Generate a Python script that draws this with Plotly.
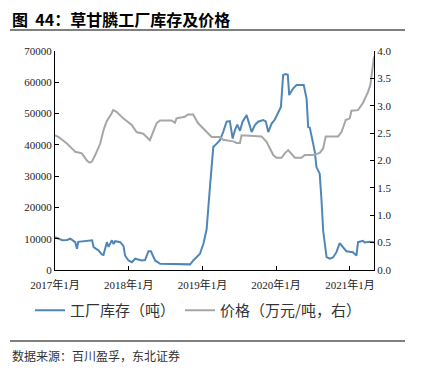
import plotly.graph_objects as go

inv_dates = ["2017-01-01","2017-01-17","2017-02-06","2017-03-01","2017-03-18","2017-04-11","2017-04-20","2017-04-26",
             "2017-05-31","2017-06-24","2017-07-04","2017-07-11","2017-08-04","2017-08-21","2017-08-29","2017-09-15",
             "2017-09-23","2017-10-10","2017-10-18","2017-10-26","2017-11-20","2017-12-06","2017-12-14","2017-12-31",
             "2018-01-17","2018-02-02","2018-02-18","2018-03-07","2018-03-23","2018-04-09","2018-04-21","2018-05-12",
             "2018-06-06","2018-07-26","2018-09-29","2018-11-01","2018-11-17","2018-12-20","2019-01-06","2019-01-22",
             "2019-02-08","2019-02-24","2019-03-13","2019-03-29","2019-04-14","2019-05-01","2019-05-17","2019-05-31",
             "2019-06-11","2019-06-23","2019-07-06","2019-07-19","2019-08-08","2019-08-20","2019-09-02","2019-09-18",
             "2019-10-04","2019-10-29","2019-11-11","2019-11-23","2019-12-10","2019-12-26","2020-01-11","2020-01-25",
             "2020-02-05","2020-02-18","2020-02-28","2020-03-06","2020-03-25","2020-04-11","2020-05-17","2020-05-31",
             "2020-06-08","2020-06-16","2020-06-29","2020-07-11","2020-07-19","2020-08-04","2020-08-13","2020-08-21",
             "2020-09-07","2020-09-23","2020-10-09","2020-10-26","2020-11-11","2020-11-28","2020-12-14","2021-01-16",
             "2021-02-02","2021-02-10","2021-03-06","2021-03-15","2021-04-09","2021-04-30"]
inv_values = [10500,10000,9500,9600,10000,8900,6800,9000,
              9200,9500,9500,7300,6300,5000,4800,8900,
              7400,9500,8300,9200,8900,7700,4650,3050,
              2500,3600,3300,3050,3200,6000,6000,3050,
              2000,1900,1700,1800,3050,5200,8400,13000,
              27000,39300,40400,41500,44100,47400,47600,42000,
              44700,46500,44500,47400,49500,47000,44100,46300,
              47400,47900,47500,44100,46800,48100,50000,52100,
              62300,62600,62400,55900,58000,59100,59100,54800,
              45700,45500,41500,37700,32900,30800,22300,12700,
              4100,3600,4000,5700,8600,7300,6000,5700,
              4600,8900,9300,8800,9000,8900]

price_dates = ["2017-01-01","2017-01-18","2017-02-05","2017-03-01","2017-04-03","2017-04-11","2017-05-14","2017-06-08",
               "2017-06-21","2017-07-03","2017-07-19","2017-08-13","2017-08-29","2017-09-13","2017-10-08","2017-10-16",
               "2017-11-02","2017-12-05","2018-01-16","2018-02-09","2018-03-14","2018-04-16","2018-05-19","2018-06-05",
               "2018-08-01","2018-08-18","2018-08-26","2018-10-06","2018-10-22","2018-11-16","2018-12-11","2019-01-22",
               "2019-02-16","2019-03-29","2019-04-14","2019-06-03","2019-06-20","2019-07-06","2019-07-14","2019-10-21",
               "2019-11-15","2019-12-18","2020-01-03","2020-01-28","2020-02-13","2020-03-01","2020-03-18","2020-04-03",
               "2020-05-06","2020-05-22","2020-07-02","2020-08-04","2020-08-21","2020-09-03","2020-11-03","2020-11-20",
               "2020-12-11","2020-12-31","2021-01-08","2021-02-10","2021-03-06","2021-03-31","2021-04-12","2021-04-21",
               "2021-04-30"]
price_values = [2.46,2.43,2.38,2.31,2.19,2.16,2.13,2.00,
                1.96,1.98,2.10,2.31,2.55,2.71,2.86,2.92,
                2.89,2.77,2.65,2.52,2.49,2.37,2.68,2.73,
                2.73,2.69,2.77,2.80,2.84,2.84,2.68,2.52,
                2.43,2.43,2.38,2.35,2.32,2.32,2.46,2.44,
                2.34,2.10,2.05,2.05,2.13,2.19,2.12,2.05,
                2.05,2.10,2.10,2.14,2.22,2.44,2.44,2.52,
                2.74,2.77,2.91,2.92,3.05,3.25,3.38,3.65,
                3.90]

tick_dates = ["2017-01-01","2018-01-01","2019-01-01","2020-01-01","2021-01-01"]
tick_labels = ["2017年1月","2018年1月","2019年1月","2020年1月","2021年1月"]
left_ticks = [0,10000,20000,30000,40000,50000,60000,70000]
left_labels = ["0","10000","20000","30000","40000","50000","60000","70000"]
right_ticks = [0.0,0.5,1.0,1.5,2.0,2.5,3.0,3.5,4.0]

series_names = ["工厂库存（吨）", "价格（万元/吨，右）"]
title_text = "图  44：草甘膦工厂库存及价格"
source_text = "数据来源：百川盈孚，东北证券"

serif = "'Liberation Serif', 'Noto Sans CJK SC', serif"
cjk = "'Noto Sans CJK SC', sans-serif"

# page body has an 8px margin; figure is sized so the plot lands at the reference position
PW, PH = 319, 219
fig = go.Figure()
fig.add_trace(go.Scatter(x=inv_dates, y=inv_values, mode="lines", name=series_names[0],
                         line=dict(color="#4f86b8", width=2)))
fig.add_trace(go.Scatter(x=price_dates, y=price_values, mode="lines", name=series_names[1],
                         line=dict(color="#a6a6a6", width=2), yaxis="y2"))

fig.update_layout(
    width=414, height=371,
    margin=dict(l=47, r=48, t=43, b=109),
    plot_bgcolor="white", paper_bgcolor="white",
    showlegend=True,
    legend=dict(orientation="h", x=(30-55)/PW, xanchor="left", y=-(294-270)/PH, yanchor="top",
                font=dict(family=cjk, size=15, color="#333333"), itemwidth=30,
                bgcolor="rgba(0,0,0,0)", tracegroupgap=0),
    xaxis=dict(type="date", range=["2017-01-01", "2021-04-30"],
               tickvals=tick_dates, ticktext=tick_labels, tickangle=0,
               showgrid=False, zeroline=False, showline=True, linecolor="black", linewidth=1,
               ticks="inside", ticklen=4, tickcolor="black", ticklabelstandoff=5,
               tickfont=dict(family=serif, size=11, color="#222222")),
    yaxis=dict(range=[0, 70000], tickvals=left_ticks, ticktext=left_labels, showgrid=False, zeroline=False,
               showline=True, linecolor="black", linewidth=1, ticks="inside", ticklen=4,
               tickcolor="black", tickfont=dict(family=serif, size=11, color="#222222")),
    yaxis2=dict(range=[0, 4], tickvals=right_ticks, tickformat=".1f", overlaying="y", side="right",
                showgrid=False, zeroline=False, showline=True, linecolor="black", linewidth=1,
                ticks="inside", ticklen=4, tickcolor="black",
                tickfont=dict(family=serif, size=11, color="#222222")),
)

fig.add_annotation(text="<b>" + title_text + "</b>", xref="paper", yref="paper",
                   x=-(55-11)/PW, y=1 + (51-19)/PH, xanchor="left", yanchor="middle", showarrow=False,
                   borderpad=0, font=dict(family=cjk, size=16, color="black"))
fig.add_annotation(text=source_text, xref="paper", yref="paper",
                   x=-(55-10)/PW, y=-(355-270)/PH, xanchor="left", yanchor="middle", showarrow=False,
                   font=dict(family=cjk, size=12, color="#333333"))
fig.add_shape(type="line", xref="paper", yref="paper", x0=-(55-10)/PW, x1=(405-55)/PW,
              y0=1 + (51-30)/PH, y1=1 + (51-30)/PH, line=dict(color="black", width=1))
fig.add_shape(type="line", xref="paper", yref="paper", x0=-(55-10)/PW, x1=(405-55)/PW,
              y0=-(341-270)/PH, y1=-(341-270)/PH, line=dict(color="black", width=1))

fig.write_html("out.html")
